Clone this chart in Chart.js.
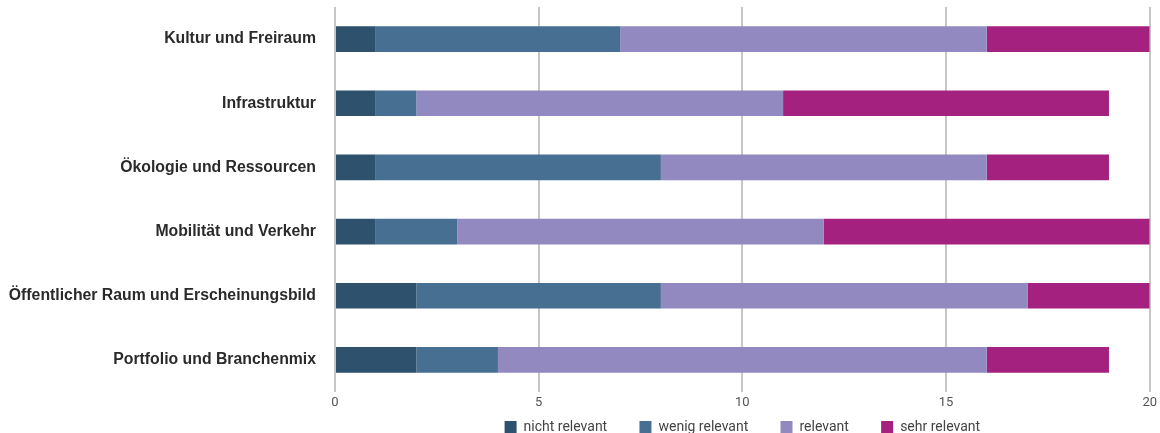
<!DOCTYPE html>
<html>
<head>
<meta charset="utf-8">
<script src="https://cdn.jsdelivr.net/npm/chart.js@4"></script>
<style>
  body { margin: 0; background: #fff; }
  #wrap { width: 1160px; height: 433px; }
</style>
</head>
<body>
<div id="wrap"><canvas id="barChart" width="1160" height="433"></canvas></div>
<script>
const categories = [
    'Kultur und Freiraum',
    'Infrastruktur',
    'Ökologie und Ressourcen',
    'Mobilität und Verkehr',
    'Öffentlicher Raum und Erscheinungsbild',
    'Portfolio und Branchenmix'
];
const nichtRelevant = [1, 1, 1, 1, 2, 2];
const wenigRelevant = [6, 1, 7, 2, 6, 2];
const relevant      = [9, 9, 8, 9, 9, 12];
const sehrRelevant  = [4, 8, 3, 8, 3, 3];
const xTicks = [0, 5, 10, 15, 20];

function makeSet(label, data, color) {
    return {
        label: label,
        data: data,
        backgroundColor: color,
        borderWidth: 0,
        barPercentage: 0.8,
        categoryPercentage: 0.5
    };
}

// legend gap: the legend padding also adds height, so the gap is made with spaces
const GAP = '\u00a0'.repeat(9);

const ctx = document.getElementById('barChart').getContext('2d');
new Chart(ctx, {
    type: 'bar',
    data: {
        labels: categories,
        datasets: [
            makeSet('nicht relevant', nichtRelevant, '#2e526e'),
            makeSet('wenig relevant', wenigRelevant, '#476f92'),
            makeSet('relevant', relevant, '#9189c0'),
            makeSet('sehr relevant', sehrRelevant, '#a52180')
        ]
    },
    options: {
        indexAxis: 'y',
        responsive: false,
        animation: false,
        // legend box keeps 10px empty below its items, pull it past the bottom edge
        layout: { padding: { top: 7, right: 10, left: 6, bottom: -11 } },
        plugins: {
            legend: {
                position: 'bottom',
                fullSize: false,
                labels: {
                    boxWidth: 12,
                    boxHeight: 12,
                    padding: 1,
                    color: '#444',
                    font: { family: 'Roboto', size: 14 },
                    generateLabels: chart => {
                        const items = Chart.defaults.plugins.legend.labels.generateLabels(chart);
                        items.forEach((it, i) => {
                            if (i < items.length - 1) it.text = it.text + GAP;
                        });
                        return items;
                    }
                }
            },
            tooltip: { enabled: false }
        },
        scales: {
            x: {
                stacked: true,
                min: 0,
                max: 20,
                afterBuildTicks: axis => { axis.ticks = xTicks.map(v => ({ value: v })); },
                afterFit: axis => { axis.height = 27; },
                grid: { color: '#c6c6c6', lineWidth: 2, drawTicks: false },
                border: { display: false },
                ticks: { color: '#555', padding: 3, font: { family: 'Roboto', size: 13 } }
            },
            y: {
                stacked: true,
                afterFit: axis => {
                    axis.paddingTop = 0;
                    axis.paddingBottom = 0;
                    axis.width = 329;
                },
                grid: { display: false, drawTicks: false },
                border: { display: false },
                ticks: { color: '#2a2a2a', padding: 19, font: { family: 'Liberation Sans', size: 15.8, weight: 'bold' } }
            }
        }
    }
});
</script>
</body>
</html>
